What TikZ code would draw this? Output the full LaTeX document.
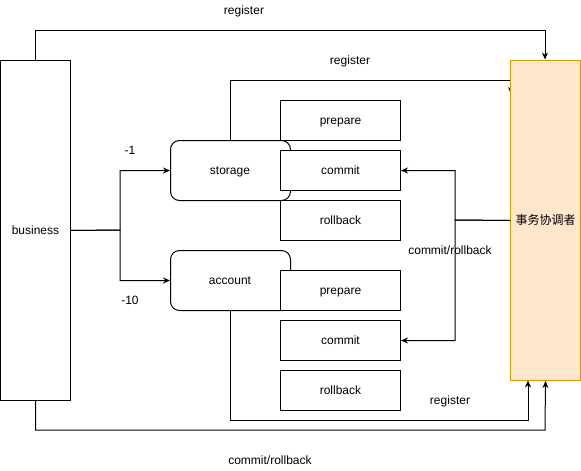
\documentclass[tikz,border=0pt]{standalone}
\usepackage{fontspec}
\setmainfont{Liberation Sans}
\newfontfamily\cjk{Noto Sans CJK SC}
\usetikzlibrary{arrows.meta}
\definecolor{coordfill}{HTML}{FFE6CC}
\definecolor{coorddraw}{HTML}{D79B00}
\begin{document}
\begin{tikzpicture}[x=1pt,y=-1pt,
  every node/.style={font=\fontsize{12}{14}\selectfont, inner sep=0pt, text height=10pt, text depth=2pt},
  box/.style={draw=black, fill=white, line width=1pt, minimum width=#1, anchor=north west},
  svc/.style={draw=black, fill=white, line width=1pt, rounded corners=9pt, minimum width=120pt, minimum height=60pt, anchor=north west},
  wire/.style={draw=black, line width=1pt},
  arr/.style={wire, -{Stealth[length=7pt,width=6pt]}},
  lbl/.style={font=\fontsize{12}{14}\selectfont}]
\useasboundingbox (0,0) rectangle (581,471);
% business
\node[box=70pt, minimum height=340pt] (business) at (0,60) {business};
% services
\node[svc] (storage) at (170,140) {};
\node[svc] (account) at (170,250) {};
% wires that pass behind boxes
\draw[arr] (business.north) |- (545,30) -- (545,59.5);
\draw[arr] (storage.north) |- (511,80) -- (511,94);
\node (storagetxt) at (230,170) {storage};
\node (accounttxt) at (230,280) {account};
\node[box=120pt, minimum height=40pt] (prep1) at (280,100) {prepare};
\node[box=120pt, minimum height=40pt] (commit1) at (280,150) {commit};
\node[box=120pt, minimum height=40pt] (roll1) at (280,200) {rollback};
\node[box=120pt, minimum height=40pt] (prep2) at (280,270) {prepare};
\node[box=120pt, minimum height=40pt] (commit2) at (280,320) {commit};
\node[box=120pt, minimum height=40pt] (roll2) at (280,370) {rollback};
% coordinator
\node[draw=coorddraw, fill=coordfill, line width=1pt, minimum width=70pt, minimum height=320pt, anchor=north west] (coord) at (510,60) {\cjk 事务协调者};
% connectors
\draw[arr] (business.east) -- (120,230) |- (storage.west);
\draw[arr] (business.east) -- (120,230) |- (account.west);
\draw[arr] (coord.west) -- (455,220) |- (commit1.east);
\draw[arr] (coord.west) -- (455,220) |- (commit2.east);
\draw[arr] (account.south) |- (528,420) -- (528,380.5);
\draw[arr] (business.south) |- (545,430) -- (coord.south);
% labels
\node[lbl] (l1) at (244,10) {register};
\node[lbl] (l2) at (350,60) {register};
\node[lbl] (l3) at (450,400) {register};
\node[lbl] (l4) at (130,150) {-1};
\node[lbl] (l5) at (130,300) {-10};
\node[lbl] (l6) at (450,250) {commit/rollback};
\node[lbl] (l7) at (270,460) {commit/rollback};
\end{tikzpicture}
\end{document}
